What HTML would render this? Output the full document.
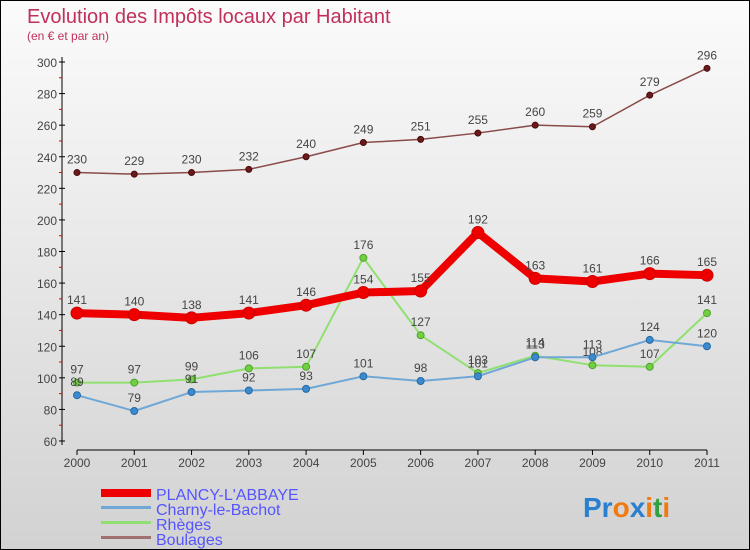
<!DOCTYPE html>
<html><head><meta charset="utf-8"><style>
body{margin:0}
#c{width:750px;height:550px;position:relative;box-sizing:border-box;border:1px solid #000;background:linear-gradient(#fbfbfb,#d2d2d2);font-family:"Liberation Sans",sans-serif;overflow:hidden}
svg{position:absolute;left:0;top:0}
</style></head><body>
<div id="c">
<svg id="s" width="750" height="550">
<text x="26" y="22" font-size="20" fill="#c0305a">Evolution des Impôts locaux par Habitant</text>
<text x="26" y="39" font-size="12" fill="#c0305a">(en € et par an)</text>
<g id="ax"></g><g id="ser"></g>
<g>
<rect x="100" y="488" width="50" height="8" fill="#e00"/>
<text x="155" y="499" font-size="16" fill="#5555ff">PLANCY-L'ABBAYE</text>
<rect x="100" y="505" width="50" height="3" fill="#6fa8d6"/>
<text x="155" y="514" font-size="16" fill="#5555ff">Charny-le-Bachot</text>
<rect x="100" y="520" width="50" height="3" fill="#8fe070"/>
<text x="155" y="529" font-size="16" fill="#5555ff">Rhèges</text>
<rect x="100" y="535" width="50" height="3" fill="#a07070"/>
<text x="155" y="544" font-size="16" fill="#5555ff">Boulages</text>
</g>
<text x="582" y="516" font-size="28" font-weight="bold"><tspan fill="#2a7fd0">Pr</tspan><tspan fill="#f07a10">o</tspan><tspan fill="#2a7fd0">x</tspan><tspan fill="#f07a10">i</tspan><tspan fill="#30a040">t</tspan><tspan fill="#f07a10">i</tspan></text>
</svg></div>
<script>
const years=["2000","2001","2002","2003","2004","2005","2006","2007","2008","2009","2010","2011"];
const yTicks=[60,80,100,120,140,160,180,200,220,240,260,280,300];
const plancy=[141,140,138,141,146,154,155,192,163,161,166,165];
const charny=[89,79,91,92,93,101,98,101,113,113,124,120];
const rheges=[97,97,99,106,107,176,127,103,114,108,107,141];
const boulages=[230,229,230,232,240,249,251,255,260,259,279,296];
const NS="http://www.w3.org/2000/svg";
const X=i=>76+i*(630/11);
const Y=v=>440-(v-60)*(379/240);
function mk(t,a,p){const e=document.createElementNS(NS,t);for(const k in a)e.setAttribute(k,a[k]);p.appendChild(e);return e;}
const ax=document.getElementById('ax'),ser=document.getElementById('ser');
let l=mk('line',{x1:61,y1:56,x2:61,y2:444,stroke:'#000','stroke-width':1},ax);


l=mk('line',{x1:X(0),y1:449,x2:X(11),y2:449,stroke:'#000','stroke-width':1},ax);


yTicks.forEach((v,i)=>{
 mk('line',{x1:58,y1:Y(v),x2:64,y2:Y(v),stroke:'#000'},ax);
 if(i<yTicks.length-1)mk('line',{x1:58,y1:Y(v+10),x2:61,y2:Y(v+10),stroke:'#e00'},ax);
 const t=mk('text',{x:56,y:Y(v)+5,'font-size':12,fill:'#444','text-anchor':'end'},ax);t.textContent=v;
 
 
});
years.forEach((y,i)=>{
 mk('line',{x1:X(i),y1:449,x2:X(i),y2:454,stroke:'#000'},ax);
 const t=mk('text',{x:X(i),y:466,'font-size':12,fill:'#444','text-anchor':'middle'},ax);t.textContent=y;
 
 
});
function series(d,name,col,w,dot,dotStroke,r){
 const g=mk('g',{},ser);
 
 
 mk('polyline',{points:d.map((v,i)=>X(i)+','+Y(v)).join(' '),fill:'none',stroke:col,'stroke-width':w,'stroke-linejoin':'round'},g);
 d.forEach((v,i)=>{
  const c=mk('circle',{cx:X(i),cy:Y(v),r:r,fill:dot,stroke:dotStroke,'stroke-width':1},g);
  
  
  const t=mk('text',{x:X(i),y:Y(v)-9,'font-size':12,fill:'#444','text-anchor':'middle'},g);t.textContent=v;
 });
}
series(boulages,'boulages','#8a4a4a',1.5,'#6a1a1a','#4a0a0a',3);
series(rheges,'rheges','#90e070',2,'#70d040','#50a030',3.5);
series(charny,'charny','#6fa8d6',2,'#3a8ad0','#2a6aa0',3.5);
series(plancy,'plancy','#ee0000',8,'#ee0000','#cc0000',6);
</script>
</body></html>
